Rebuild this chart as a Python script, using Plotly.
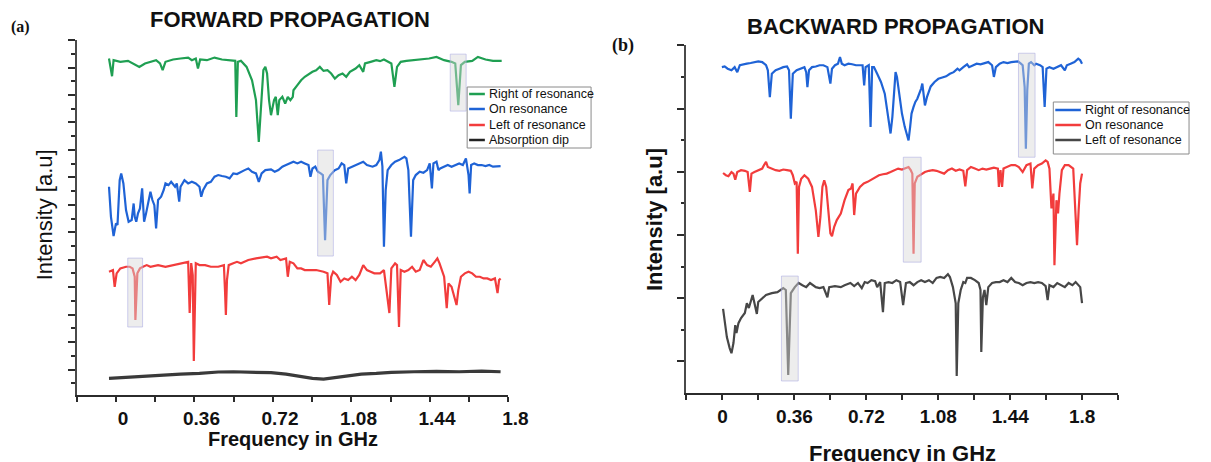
import plotly.graph_objects as go

W, H = 1211, 462

GREEN = "#1f9f52"
BLUE = "#1f63d6"
RED = "#f23c3c"
DARK_A = "#3a3a3a"
DARK_B = "#474747"

SANS = "Liberation Sans, Arial, sans-serif"
SERIF = "Liberation Serif, Times New Roman, serif"

# ---------------- Forward propagation: (frequency GHz, intensity a.u.) ----------------
fwd_right = [(-0.032,24.66),(-0.018,23.37),(-0.011,24.54),(0.020,24.42),(0.055,24.49),(0.089,24.18),(0.107,24.05),(0.133,24.30),(0.158,24.42),(0.184,24.54),(0.202,24.30),(0.214,23.81),(0.227,24.42),(0.262,24.59),(0.296,24.66),(0.331,24.73),(0.348,24.54),(0.366,24.66),(0.376,23.93),(0.386,24.59),(0.417,24.54),(0.452,24.73),(0.486,24.59),(0.521,24.54),(0.547,24.49),(0.552,20.41),(0.559,24.42),(0.573,24.49),(0.599,24.05),(0.624,23.08),(0.642,21.63),(0.655,18.59),(0.668,21.63),(0.676,23.81),(0.685,24.05),(0.693,23.57),(0.702,21.63),(0.711,20.53),(0.725,21.63),(0.733,21.87),(0.742,20.53),(0.749,21.63),(0.763,21.87),(0.776,21.38),(0.788,21.87),(0.800,21.63),(0.811,21.87),(0.814,22.35),(0.832,22.72),(0.849,23.08),(0.866,23.33),(0.883,23.52),(0.901,23.69),(0.918,23.81),(0.935,24.05),(0.952,23.76),(0.970,23.81),(0.987,23.57),(1.004,23.20),(1.021,23.45),(1.039,23.57),(1.056,23.33),(1.073,23.69),(1.099,23.93),(1.116,24.18),(1.134,23.69),(1.142,24.30),(1.168,24.42),(1.194,24.54),(1.211,24.47),(1.229,24.59),(1.263,24.30),(1.277,22.60),(1.289,24.05),(1.306,24.42),(1.332,24.49),(1.367,24.54),(1.401,24.59),(1.436,24.66),(1.470,24.78),(1.505,24.54),(1.539,24.42),(1.556,24.30),(1.570,21.26),(1.582,24.18),(1.600,24.42),(1.634,24.49),(1.660,24.78),(1.695,24.59),(1.729,24.49),(1.769,24.49)]

fwd_on = [(-0.032,15.32),(-0.023,13.13),(-0.011,11.73),(0.000,12.65),(0.007,12.53),(0.017,15.80),(0.024,16.29),(0.034,15.56),(0.046,13.62),(0.058,12.77),(0.072,12.89),(0.081,14.10),(0.086,13.13),(0.093,12.77),(0.101,13.38),(0.110,13.74),(0.120,15.20),(0.129,12.77),(0.138,13.38),(0.150,14.35),(0.158,14.96),(0.167,14.35),(0.176,13.98),(0.184,12.28),(0.193,14.35),(0.207,14.59),(0.219,15.08),(0.227,15.56),(0.241,15.44),(0.253,15.68),(0.271,15.32),(0.279,15.56),(0.290,14.23),(0.296,15.32),(0.314,15.80),(0.331,15.56),(0.348,15.68),(0.366,15.56),(0.383,15.32),(0.391,14.59),(0.400,15.08),(0.417,15.56),(0.435,15.68),(0.452,16.05),(0.469,16.17),(0.486,16.10),(0.504,16.05),(0.521,15.93),(0.538,16.29),(0.555,16.24),(0.573,16.41),(0.590,16.53),(0.607,16.65),(0.624,16.41),(0.642,16.29),(0.655,15.68),(0.668,16.29),(0.685,16.53),(0.711,16.58),(0.728,16.41),(0.745,16.53),(0.763,16.78),(0.780,16.90),(0.797,17.02),(0.814,17.14),(0.832,17.02),(0.849,17.14),(0.866,17.02),(0.883,16.90),(0.892,16.05),(0.901,16.65),(0.914,16.78),(0.926,16.41),(0.939,16.29),(0.949,16.17),(0.959,11.43),(0.970,15.80),(0.983,16.17),(1.004,16.53),(1.021,16.65),(1.035,17.02),(1.047,16.90),(1.056,15.56),(1.065,16.65),(1.082,16.78),(1.099,16.90),(1.116,17.02),(1.134,17.14),(1.151,16.90),(1.177,16.78),(1.194,16.90),(1.208,17.26),(1.215,17.87),(1.222,16.78),(1.229,10.95),(1.237,15.08),(1.246,16.53),(1.263,16.90),(1.280,17.14),(1.298,17.26),(1.323,17.50),(1.332,17.38),(1.341,16.53),(1.353,11.68),(1.363,15.80),(1.375,16.17),(1.393,16.41),(1.410,16.34),(1.427,16.53),(1.439,17.02),(1.449,15.20),(1.456,17.02),(1.470,17.14),(1.479,16.53),(1.487,16.65),(1.505,16.78),(1.522,16.90),(1.539,16.78),(1.556,16.90),(1.574,17.02),(1.591,16.90),(1.605,17.38),(1.617,16.17),(1.622,14.83),(1.629,16.90),(1.643,17.02),(1.660,16.90),(1.677,16.90),(1.695,16.82),(1.712,16.90),(1.729,16.78),(1.746,16.82),(1.764,16.82)]

fwd_left = [(-0.032,9.13),(-0.014,9.25),(-0.006,8.03),(0.003,9.01),(0.020,9.37),(0.046,9.49),(0.063,9.49),(0.076,9.37),(0.086,8.76),(0.089,5.61),(0.098,9.01),(0.110,9.37),(0.124,9.49),(0.141,9.61),(0.158,9.49),(0.193,9.61),(0.227,9.49),(0.262,9.61),(0.296,9.74),(0.322,9.85),(0.331,9.85),(0.338,6.12),(0.345,9.76),(0.352,8.89),(0.357,2.62),(0.366,9.74),(0.383,9.61),(0.409,9.61),(0.435,9.49),(0.469,9.49),(0.495,9.61),(0.500,7.79),(0.504,5.97),(0.509,8.52),(0.517,9.61),(0.538,9.74),(0.555,9.85),(0.573,9.74),(0.607,9.98),(0.642,10.10),(0.676,10.17),(0.693,10.22),(0.711,10.10),(0.737,10.22),(0.754,9.98),(0.780,10.10),(0.788,8.76),(0.797,9.85),(0.814,9.74),(0.832,9.37),(0.849,9.37),(0.866,9.25),(0.883,9.25),(0.918,9.25),(0.952,9.13),(0.970,9.01),(0.978,6.70),(0.987,8.76),(0.996,9.13),(1.013,8.89),(1.030,8.40),(1.047,8.64),(1.065,8.52),(1.082,8.76),(1.099,8.52),(1.116,8.89),(1.134,9.61),(1.151,9.25),(1.168,9.13),(1.185,9.01),(1.211,9.01),(1.229,9.25),(1.254,6.12),(1.263,9.37),(1.280,9.74),(1.289,9.61),(1.298,5.10),(1.306,9.25),(1.323,9.13),(1.341,9.25),(1.358,9.49),(1.375,9.13),(1.393,9.25),(1.410,9.98),(1.427,9.61),(1.444,9.49),(1.462,9.85),(1.474,10.10),(1.484,9.74),(1.496,9.25),(1.505,8.76),(1.517,6.48),(1.525,8.28),(1.539,8.03),(1.551,7.30),(1.562,6.70),(1.570,7.79),(1.582,8.76),(1.600,9.01),(1.617,9.13),(1.634,9.01),(1.651,8.76),(1.669,8.76),(1.686,8.64),(1.703,8.64),(1.720,8.52),(1.738,8.64),(1.750,7.57),(1.757,8.52),(1.764,8.64)]

fwd_absorption = [(-0.032,1.36),(0.038,1.43),(0.124,1.53),(0.210,1.60),(0.296,1.67),(0.383,1.72),(0.469,1.82),(0.538,1.84),(0.624,1.82),(0.711,1.77),(0.780,1.67),(0.849,1.48),(0.901,1.36),(0.952,1.31),(1.004,1.41),(1.056,1.53),(1.125,1.67),(1.194,1.72),(1.263,1.80),(1.367,1.84),(1.470,1.87),(1.574,1.84),(1.677,1.89),(1.764,1.84)]

# ---------------- Backward propagation ----------------
bwd_right = [(-0.003,10.31),(0.011,10.33),(0.026,10.26),(0.045,10.21),(0.061,10.31),(0.074,10.15),(0.087,10.37),(0.103,10.40),(0.122,10.42),(0.141,10.44),(0.160,10.47),(0.179,10.49),(0.199,10.47),(0.218,10.37),(0.227,10.21),(0.237,9.36),(0.247,10.10),(0.266,10.21),(0.285,10.26),(0.304,10.31),(0.323,10.33),(0.333,10.21),(0.342,8.68),(0.352,10.10),(0.371,10.21),(0.390,10.26),(0.410,10.31),(0.419,10.15),(0.425,9.68),(0.433,10.21),(0.448,10.31),(0.467,10.33),(0.486,10.37),(0.505,10.37),(0.525,10.31),(0.540,9.79),(0.548,10.26),(0.563,10.37),(0.578,10.42),(0.588,10.63),(0.597,10.42),(0.611,10.37),(0.630,10.42),(0.649,10.40),(0.668,10.37),(0.688,10.37),(0.701,10.37),(0.709,9.73),(0.716,10.31),(0.732,10.37),(0.741,8.42),(0.749,10.31),(0.758,10.31),(0.774,10.10),(0.793,9.84),(0.812,9.47),(0.827,8.84),(0.841,8.21),(0.850,8.73),(0.860,9.79),(0.866,10.15),(0.873,10.00),(0.885,9.36),(0.898,8.84),(0.912,8.42),(0.923,8.21),(0.931,7.99),(0.939,8.42),(0.946,8.84),(0.956,9.05),(0.965,9.21),(0.975,9.31),(0.985,9.47),(0.994,9.63),(1.000,9.79),(1.008,9.26),(1.013,9.10),(1.023,9.36),(1.033,9.58),(1.042,9.70),(1.061,9.84),(1.080,9.94),(1.100,9.98),(1.119,10.02),(1.138,10.10),(1.157,10.15),(1.176,10.26),(1.186,10.21),(1.205,10.31),(1.224,10.40),(1.234,10.31),(1.253,10.37),(1.272,10.42),(1.291,10.40),(1.311,10.44),(1.330,10.47),(1.349,10.37),(1.358,10.00),(1.368,10.31),(1.387,10.42),(1.406,10.47),(1.426,10.44),(1.445,10.47),(1.464,10.47),(1.479,10.49),(1.493,10.42),(1.502,10.37),(1.512,9.68),(1.518,7.73),(1.525,9.58),(1.533,10.42),(1.544,10.47),(1.560,10.37),(1.569,10.42),(1.589,10.37),(1.602,10.31),(1.612,9.05),(1.621,10.26),(1.636,10.31),(1.656,10.26),(1.675,10.31),(1.694,10.37),(1.713,10.21),(1.723,10.37),(1.742,10.42),(1.761,10.47),(1.780,10.58),(1.790,10.53),(1.799,10.42)]

bwd_on = [(0.003,6.96),(0.017,6.89),(0.030,6.86),(0.045,6.99),(0.055,6.94),(0.064,6.75),(0.074,6.99),(0.093,7.05),(0.112,7.03),(0.126,6.99),(0.137,6.36),(0.145,6.94),(0.160,6.99),(0.179,7.05),(0.199,7.10),(0.208,7.21),(0.218,7.31),(0.227,7.15),(0.247,7.10),(0.266,7.05),(0.285,7.03),(0.304,7.07),(0.323,7.05),(0.342,7.03),(0.352,6.89),(0.362,6.63),(0.371,6.68),(0.377,4.41),(0.383,6.52),(0.394,6.78),(0.410,6.89),(0.429,6.78),(0.448,6.52),(0.467,5.78),(0.480,4.94),(0.490,5.57),(0.500,6.52),(0.509,6.73),(0.519,6.52),(0.528,5.78),(0.540,5.05),(0.548,4.96),(0.559,5.26),(0.572,5.47),(0.592,5.68),(0.611,6.10),(0.630,6.42),(0.643,6.47),(0.651,6.63),(0.659,5.63),(0.668,6.31),(0.688,6.52),(0.707,6.63),(0.726,6.68),(0.745,6.75),(0.764,6.84),(0.783,6.89),(0.803,6.92),(0.822,6.94),(0.841,6.99),(0.860,7.05),(0.879,7.10),(0.898,7.07),(0.918,7.13),(0.931,7.15),(0.942,7.05),(0.950,6.94),(0.956,4.41),(0.962,6.63),(0.975,6.84),(0.994,6.92),(1.013,6.99),(1.033,7.03),(1.052,7.05),(1.071,7.03),(1.090,6.99),(1.109,6.94),(1.128,7.05),(1.148,7.10),(1.167,7.03),(1.186,7.07),(1.205,7.03),(1.215,6.54),(1.224,7.05),(1.243,7.15),(1.263,7.10),(1.282,7.05),(1.301,7.10),(1.320,7.07),(1.339,7.10),(1.358,7.13),(1.378,7.10),(1.383,6.52),(1.391,7.05),(1.399,6.52),(1.406,7.10),(1.426,7.17),(1.445,7.21),(1.464,7.21),(1.483,7.15),(1.502,6.99),(1.521,7.21),(1.541,7.26),(1.550,6.47),(1.560,7.10),(1.579,7.21),(1.598,7.26),(1.617,7.36),(1.627,7.31),(1.636,7.10),(1.646,5.84),(1.656,6.31),(1.661,4.04),(1.671,6.10),(1.679,5.68),(1.686,6.31),(1.698,7.05),(1.713,7.21),(1.732,7.21),(1.748,7.15),(1.755,7.10),(1.767,5.57),(1.774,4.68),(1.782,5.78),(1.790,6.63),(1.799,6.94)]

bwd_left = [(0.003,2.66),(0.011,2.31),(0.022,1.77),(0.036,1.42),(0.045,1.26),(0.055,1.58),(0.064,2.15),(0.070,1.90),(0.080,2.21),(0.093,2.37),(0.112,2.53),(0.122,2.84),(0.132,2.69),(0.151,3.10),(0.164,2.78),(0.172,2.50),(0.179,2.88),(0.199,3.00),(0.218,3.10),(0.247,3.16),(0.275,3.19),(0.304,3.32),(0.317,3.26),(0.329,0.57),(0.342,3.16),(0.362,3.35),(0.381,3.48),(0.400,3.41),(0.419,3.35),(0.438,3.48),(0.467,3.35),(0.486,3.32),(0.505,3.35),(0.525,3.03),(0.534,3.35),(0.563,3.38),(0.592,3.35),(0.611,3.41),(0.640,3.48),(0.659,3.38),(0.678,3.48),(0.697,3.32),(0.712,3.51),(0.726,3.48),(0.745,3.57),(0.764,3.54),(0.774,3.35),(0.789,3.51),(0.803,2.56),(0.812,3.48),(0.831,3.51),(0.850,3.48),(0.870,3.57),(0.889,3.51),(0.904,2.78),(0.918,3.48),(0.937,3.51),(0.956,3.41),(0.975,3.51),(0.994,3.57),(1.013,3.51),(1.033,3.57),(1.052,3.48),(1.071,3.64),(1.090,3.67),(1.109,3.64),(1.128,3.76),(1.138,3.67),(1.153,3.35),(1.167,2.84),(1.172,0.54),(1.180,2.84),(1.192,3.26),(1.205,3.51),(1.215,3.48),(1.224,3.64),(1.243,3.64),(1.263,3.57),(1.282,3.48),(1.291,3.26),(1.295,1.30),(1.303,3.03),(1.311,3.26),(1.320,2.78),(1.330,3.35),(1.349,3.48),(1.368,3.51),(1.387,3.51),(1.406,3.57),(1.426,3.51),(1.445,3.64),(1.464,3.51),(1.483,3.48),(1.502,3.41),(1.521,3.48),(1.541,3.51),(1.560,3.48),(1.579,3.51),(1.598,3.48),(1.617,3.38),(1.627,2.94),(1.636,3.41),(1.656,3.35),(1.675,3.48),(1.694,3.41),(1.713,3.35),(1.732,3.48),(1.751,3.41),(1.767,3.51),(1.780,3.41),(1.790,3.35),(1.799,2.84)]

# shaded windows around the marked dips: (f_min, f_max, i_min, i_max)
fwd_marks = [(1.533, 1.606, 20.83, 24.98), (0.925, 0.997, 10.27, 17.99), (0.054, 0.122, 5.10, 10.12)]
bwd_marks = [(1.481, 1.564, 7.46, 10.75), (0.905, 0.994, 4.14, 7.46), (0.295, 0.379, 0.38, 3.70)]

freq_label_vals = [0, 0.36, 0.72, 1.08, 1.44, 1.8]
freq_labels = ["0", "0.36", "0.72", "1.08", "1.44", "1.8"]
freq_minor_fwd = [-0.18, 0.18, 0.54, 0.9, 1.26, 1.62]
freq_minor_bwd = [-0.18, 0.18, 0.54, 0.9, 1.26, 1.62, 1.98]


def px_x(px):
    return px / W


def px_y(py):
    return 1 - py / H


def unzip(pairs):
    return [p[0] for p in pairs], [p[1] for p in pairs]


fig = go.Figure()

series = [
    (fwd_right, "Right of resonance", GREEN, 2.2, "x", "y"),
    (fwd_on, "On resonance", BLUE, 2.2, "x", "y"),
    (fwd_left, "Left of resonance", RED, 2.2, "x", "y"),
    (fwd_absorption, "Absorption dip", DARK_A, 3.2, "x", "y"),
    (bwd_right, "Right of resonance", BLUE, 2.2, "x2", "y2"),
    (bwd_on, "On resonance", RED, 2.2, "x2", "y2"),
    (bwd_left, "Left of resonance", DARK_B, 2.2, "x2", "y2"),
]
for pairs, name, color, width, xa, ya in series:
    f, i = unzip(pairs)
    fig.add_trace(go.Scatter(x=f, y=i, mode="lines", name=name, showlegend=False,
                             line=dict(color=color, width=width), xaxis=xa, yaxis=ya))

shapes = []
for marks, xr, yr in [(fwd_marks, "x", "y"), (bwd_marks, "x2", "y2")]:
    for f0, f1, i0, i1 in marks:
        shapes.append(dict(type="rect", xref=xr, yref=yr, x0=f0, x1=f1, y0=i0, y1=i1,
                           fillcolor="rgba(214,214,214,0.45)",
                           line=dict(color="rgba(170,170,225,0.55)", width=1), layer="above"))

annotations = []

# hand-built legend boxes
legends = [
    dict(box=(475, 87, 601, 148), line=(477, 493), text_x=495, rows=[94, 109, 125, 140],
         entries=[("Right of resonance", GREEN), ("On resonance", BLUE),
                  ("Left of resonance", RED), ("Absorption dip", "#222222")]),
    dict(box=(1071, 102, 1209, 154), line=(1073, 1099), text_x=1101, rows=[110, 125, 140],
         entries=[("Right of resonance", BLUE), ("On resonance", RED),
                  ("Left of resonance", DARK_B)]),
]
for lg in legends:
    bx0, by0, bx1, by1 = lg["box"]
    shapes.append(dict(type="rect", xref="paper", yref="paper", x0=px_x(bx0), x1=px_x(bx1),
                       y0=px_y(by1), y1=px_y(by0), fillcolor="white",
                       line=dict(color="#8a8a8a", width=1), layer="above"))
    for (label, color), row in zip(lg["entries"], lg["rows"]):
        shapes.append(dict(type="line", xref="paper", yref="paper",
                           x0=px_x(lg["line"][0]), x1=px_x(lg["line"][1]),
                           y0=px_y(row), y1=px_y(row), line=dict(color=color, width=2.5),
                           layer="above"))
        annotations.append(dict(text=label, xref="paper", yref="paper", x=px_x(lg["text_x"]),
                                y=px_y(row), xanchor="left", yanchor="middle", showarrow=False,
                                font=dict(family=SANS, size=12.5, color="#111111")))

# panel labels, titles and axis titles
texts = [
    ("(a)", 21, 27, SERIF, 16, "bold", 0),
    ("FORWARD PROPAGATION", 295, 20, SANS, 22, "bold", 0),
    ("(b)", 633, 46, SERIF, 18, "bold", 0),
    ("BACKWARD PROPAGATION", 911, 27, SANS, 22, "bold", 0),
    ("Frequency in GHz", 298, 439, SANS, 20, "bold", 0),
    ("Frequency in GHz", 918, 453, SANS, 22, "bold", 0),
    ("Intensity [a.u]", 45, 215, SANS, 22, "normal", -90),
    ("Intensity [a.u]", 665, 220, SANS, 22, "bold", -90),
]
for t, x, y, fam, size, weight, ang in texts:
    annotations.append(dict(text=t, xref="paper", yref="paper", x=px_x(x), y=px_y(y),
                            xanchor="center", yanchor="middle", showarrow=False, textangle=ang,
                            font=dict(family=fam, size=size, weight=weight, color="#111111")))

tickfont = dict(family=SANS, size=19, weight="bold", color="#111111")


def x_axis(domain, rng, minor_vals, shift):
    return dict(domain=domain, range=rng, showgrid=False, zeroline=False,
                showline=True, linecolor="#2b2b2b", linewidth=2,
                ticks="outside", ticklen=5, tickwidth=1.5, tickcolor="#2b2b2b",
                tickmode="array", tickvals=freq_label_vals, ticktext=freq_labels,
                tickfont=tickfont, ticklabelshift=shift,
                minor=dict(tickmode="array", tickvals=minor_vals, ticks="outside",
                           ticklen=5, tickwidth=1.5, tickcolor="#2b2b2b", showgrid=False))


def y_axis(domain, rng, major, minor_vals, anchor):
    return dict(domain=domain, range=rng, anchor=anchor, showgrid=False, zeroline=False,
                showline=True, linecolor="#4a4a4a", linewidth=2,
                ticks="outside", ticklen=7, tickwidth=1.5, tickcolor="#2b2b2b",
                tickmode="array", tickvals=major, showticklabels=False,
                minor=dict(tickmode="array", tickvals=minor_vals, ticks="outside",
                           ticklen=3.5, tickwidth=1.5, tickcolor="#2b2b2b", showgrid=False))


fig.update_layout(
    width=W, height=H, autosize=False, margin=dict(l=0, r=0, t=0, b=0, pad=0),
    paper_bgcolor="white", plot_bgcolor="white", showlegend=False,
    xaxis=x_axis([px_x(78), px_x(517)], [-0.1801, 1.8001], freq_minor_fwd, 7),
    yaxis=y_axis([px_y(395), px_y(40)], [0.146, 26.01], list(range(2, 27, 2)),
                 list(range(1, 26, 2)), "x"),
    xaxis2=dict(x_axis([px_x(698), px_x(1137)], [-0.1801, 1.9801], freq_minor_bwd, 0),
                anchor="y2"),
    yaxis2=y_axis([px_y(393), px_y(45)], [0, 11.01], [1, 3, 5, 7, 9, 11],
                  [2, 4, 6, 8, 10], "x2"),
    shapes=shapes, annotations=annotations,
)

fig.write_html("out.html", config={"displayModeBar": False})
